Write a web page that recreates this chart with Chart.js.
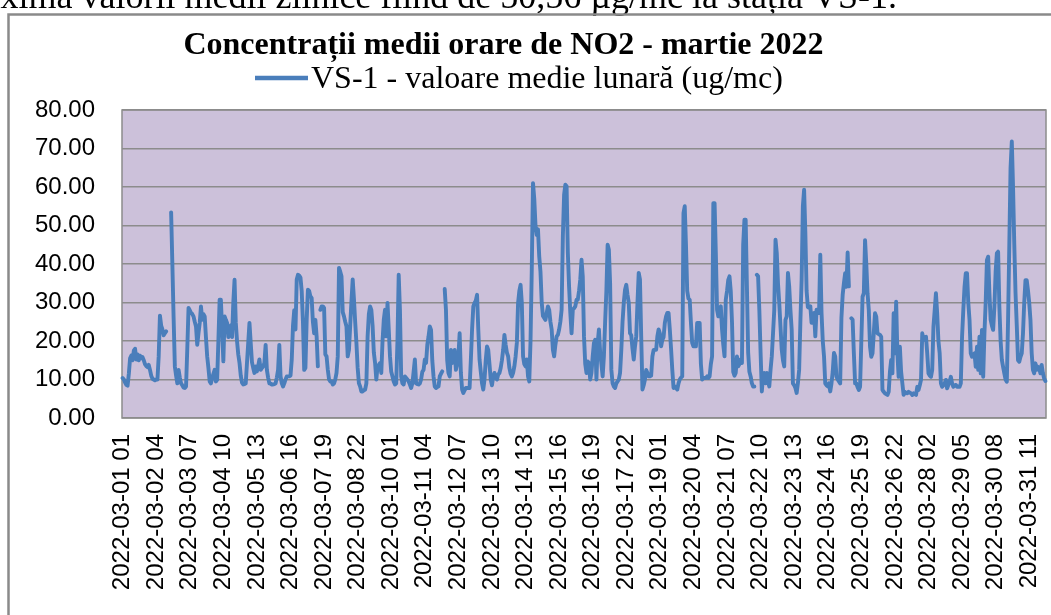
<!DOCTYPE html>
<html>
<head>
<meta charset="utf-8">
<script src="https://cdn.jsdelivr.net/npm/chart.js@4.4.1/dist/chart.umd.min.js"></script>
<style>
html,body{margin:0;padding:0;background:#fff;overflow:hidden;}
#wrap{position:absolute;left:0;top:0;width:1051px;height:615px;}
</style>
</head>
<body>
<div id="wrap"><canvas id="c" width="1051" height="615"></canvas></div>
<script>
// ---------------- texts ----------------
const pageText = 'maxima valorii medii zilnice fiind de 50,56 µg/mc la stația VS-1.';
const chartTitle = 'Concentrații medii orare de NO2 - martie 2022';
const seriesLabel = 'VS-1 - valoare medie lunară (ug/mc)';

// ---------------- tick labels (every 27th hour) ----------------
const tickLabels = [
  '2022-03-01 01','2022-03-02 04','2022-03-03 07','2022-03-04 10','2022-03-05 13',
  '2022-03-06 16','2022-03-07 19','2022-03-08 22','2022-03-10 01','2022-03-11 04',
  '2022-03-12 07','2022-03-13 10','2022-03-14 13','2022-03-15 16','2022-03-16 19',
  '2022-03-17 22','2022-03-19 01','2022-03-20 04','2022-03-21 07','2022-03-22 10',
  '2022-03-23 13','2022-03-24 16','2022-03-25 19','2022-03-26 22','2022-03-28 02',
  '2022-03-29 05','2022-03-30 08','2022-03-31 11'
];
const tickEvery = 27;
const yTickValues = [0, 10, 20, 30, 40, 50, 60, 70, 80];

// ---------------- categories: hourly timestamps (DST hour 27 03 absent) ----------------
const categories = [];
(function () {
  const p = n => String(n).padStart(2, '0');
  for (let d = 1; d <= 31; d++) {
    for (let h = (d === 1 ? 1 : 0); h < 24; h++) {
      if (d === 27 && h === 3) continue;
      categories.push('2022-03-' + p(d) + ' ' + p(h));
    }
  }
  categories.push('2022-04-01 00');
})();

// ---------------- hourly NO2 values (ug/mc) ----------------
const no2Values = [
  10.4,10.0,9.2,8.6,8.4,11.5,15.5,16.2,15.0,17.5,18.0,15.2,16.5,15.0,16.2,15.5,15.8,15.0,14.0,13.5,13.2,13.8,12.5,11.0,
  10.2,10.0,9.8,10.0,10.0,16.0,26.6,24.0,23.0,21.5,22.0,22.5,null,null,null,53.4,40.0,26.0,13.4,11.0,9.0,12.5,10.5,9.0,
  8.5,7.9,7.8,8.2,18.0,28.6,28.0,27.3,27.0,26.4,25.0,23.8,19.0,22.0,24.7,29.0,25.5,27.0,26.4,21.0,16.0,13.0,9.5,9.0,
  10.4,11.5,12.5,9.5,9.9,20.0,30.7,30.7,23.0,14.7,26.4,25.5,24.7,21.0,23.0,24.0,21.0,30.0,35.9,24.7,20.0,16.5,14.3,11.0,
  9.2,8.7,8.8,9.0,14.3,19.5,24.7,19.5,14.5,13.0,11.7,13.4,12.1,13.5,15.2,12.5,13.0,13.4,14.3,19.0,12.5,10.5,9.0,8.9,
  8.7,8.7,8.8,9.0,10.5,12.5,19.0,10.8,9.0,8.2,9.0,10.0,10.8,10.8,10.8,11.0,15.2,24.0,28.0,23.0,36.0,37.2,37.0,36.5,
  33.0,25.0,12.5,13.0,25.5,33.3,33.0,31.6,31.2,25.0,22.0,25.5,21.2,13.4,null,28.1,29.0,29.0,28.6,16.5,16.0,12.5,10.0,9.5,
  9.5,8.7,9.0,10.0,11.7,16.0,39.0,38.0,36.8,27.5,26.4,25.0,23.8,16.0,17.7,24.0,30.3,36.0,31.0,25.0,19.5,13.0,9.0,8.2,
  6.9,6.9,7.2,7.4,9.0,21.2,27.0,29.0,28.1,24.0,17.0,14.3,10.0,13.4,13.8,14.3,11.7,20.0,25.5,28.1,21.2,29.9,23.0,16.0,
  12.0,10.8,9.5,8.7,9.0,20.0,37.2,28.1,10.8,9.0,8.7,10.8,10.4,10.0,9.5,8.7,7.8,9.0,12.0,15.2,9.0,8.8,8.7,9.0,
  10.0,12.0,12.5,15.2,14.3,19.0,21.2,23.8,22.9,15.0,10.8,8.2,7.8,8.0,8.2,10.8,11.5,12.1,null,33.5,28.1,15.0,11.7,10.8,
  17.7,14.3,15.5,17.7,12.5,14.0,16.0,22.0,11.7,7.4,6.5,7.2,7.8,7.8,7.8,7.8,15.0,23.0,29.0,29.9,30.5,32.0,23.0,15.2,
  12.0,9.0,7.4,10.0,15.0,18.6,17.7,14.0,10.0,8.5,10.8,11.7,10.5,10.0,11.3,11.7,13.0,15.0,17.7,21.6,19.0,17.0,16.0,13.0,
  11.5,10.8,11.7,13.4,16.0,19.5,29.9,33.0,34.6,29.9,16.0,14.0,13.4,15.2,10.8,9.5,20.0,38.5,61.0,57.0,50.0,47.5,49.0,42.0,
  38.0,30.0,26.5,26.0,25.5,27.3,29.0,28.1,25.0,23.0,17.7,16.0,19.0,21.2,21.6,23.0,25.0,28.1,47.2,58.0,60.6,60.2,42.9,34.2,
  27.3,22.0,28.1,28.5,29.0,30.7,30.7,33.0,36.0,41.1,36.8,21.2,14.0,11.7,14.7,14.3,10.0,11.7,16.0,19.5,20.3,10.0,19.5,23.0,
  17.0,14.0,10.8,16.0,25.0,33.0,45.0,43.7,35.0,12.5,9.0,8.2,7.8,9.0,9.5,10.0,11.7,17.7,25.0,30.0,33.3,34.6,32.0,29.9,
  22.0,21.5,18.0,15.2,18.6,21.2,30.0,37.7,36.0,21.2,7.4,8.5,10.0,12.5,11.7,10.8,10.8,11.0,16.0,17.7,17.7,17.7,21.2,23.0,
  22.0,18.6,20.3,21.0,24.7,26.4,27.3,27.3,23.0,18.0,12.5,7.8,8.2,7.8,7.4,9.0,10.0,10.5,10.8,53.2,55.0,45.0,33.0,31.0,
  30.7,24.7,19.5,18.6,18.6,18.6,24.7,24.7,24.7,14.0,10.0,10.4,10.4,10.4,10.8,10.4,10.8,14.0,16.0,55.8,55.8,42.9,28.1,26.4,
  27.5,29.0,23.0,19.0,16.0,30.7,33.0,35.9,36.8,33.0,25.0,12.0,11.0,11.7,16.0,13.4,14.0,15.2,14.3,45.0,51.5,51.5,34.2,17.0,
  12.0,10.8,9.0,8.2,8.2,null,37.2,36.8,28.0,16.9,6.9,11.0,11.7,9.0,11.7,9.5,8.2,12.5,16.0,22.0,28.1,46.3,42.9,35.0,
  29.9,23.8,17.7,15.0,13.4,25.5,26.4,37.7,34.2,28.0,23.0,9.0,8.5,7.8,6.5,9.0,12.5,25.0,35.9,55.0,59.3,48.0,33.0,28.8,
  28.6,29.0,24.7,26.0,27.3,21.2,28.1,27.7,27.3,42.4,27.3,20.0,16.0,9.0,8.5,8.2,9.0,6.9,9.0,12.0,16.9,16.0,10.8,10.0,
  9.5,9.0,26.0,32.0,35.0,37.6,34.1,43.0,34.2,null,25.9,25.5,16.8,9.0,9.0,8.0,7.3,8.1,20.0,31.5,32.4,46.2,40.0,32.4,
  28.1,18.5,15.9,16.8,22.0,27.2,26.3,22.0,21.8,21.6,21.1,7.3,6.8,6.4,6.2,6.0,6.8,12.0,15.1,11.6,27.2,16.8,30.2,16.8,
  10.7,18.5,12.0,9.0,6.0,6.8,6.5,6.4,6.8,6.6,6.4,6.0,6.4,6.2,6.0,8.1,7.3,8.5,9.9,22.0,20.3,21.0,21.1,16.8,
  11.6,11.0,10.7,12.5,23.7,28.0,32.4,27.2,20.0,16.8,9.0,8.1,8.5,9.0,9.9,7.7,8.6,9.5,10.7,9.0,8.1,8.5,8.6,8.1,
  8.1,8.1,9.0,21.1,28.0,34.1,37.6,37.6,30.0,25.5,16.8,15.9,16.5,16.8,13.3,18.5,12.5,21.1,11.6,22.9,10.7,22.0,30.0,41.0,
  41.9,32.4,25.5,24.0,22.9,28.9,38.0,42.8,43.2,28.9,20.0,15.1,13.3,11.6,10.0,9.4,25.5,45.0,65.0,71.8,60.0,45.0,32.4,24.0,
  15.0,14.6,15.9,16.8,22.0,30.0,35.8,35.8,33.2,30.0,25.5,16.8,12.5,11.6,14.2,12.5,13.3,13.0,11.6,13.8,11.6,10.3,9.6
];

// ---------------- styling ----------------
const lineColor = '#4A7EBB';
const plotBg = '#CCC1DA';
const gridColor = '#8C8C8C';

const decorPlugin = {
  id: 'decor',
  beforeDraw(chart) {
    const ctx = chart.ctx;
    const a = chart.chartArea;
    ctx.save();
    ctx.fillStyle = '#ffffff';
    ctx.fillRect(0, 0, chart.width, chart.height);
    // document text above the chart (cut by the page edge)
    ctx.fillStyle = '#000';
    ctx.font = '36px "Liberation Serif", "Times New Roman", serif';
    ctx.textAlign = 'right';
    ctx.textBaseline = 'alphabetic';
    ctx.fillText(pageText, 897, 8);
    // outer chart frame
    ctx.strokeStyle = '#8A8A8A';
    ctx.lineWidth = 2.5;
    ctx.strokeRect(8.5, 14.5, 1200, 800);
    // plot background
    ctx.fillStyle = plotBg;
    ctx.fillRect(a.left, a.top, a.right - a.left, a.bottom - a.top);
    ctx.restore();
  },
  beforeDatasetsDraw(chart) {
    const ctx = chart.ctx;
    const a = chart.chartArea;
    ctx.save();
    ctx.strokeStyle = gridColor;
    ctx.lineWidth = 1.5;
    ctx.strokeRect(a.left, a.top, a.right - a.left, a.bottom - a.top);
    ctx.restore();
  },
  afterDraw(chart) {
    const ctx = chart.ctx;
    ctx.save();
    ctx.fillStyle = '#000';
    ctx.textBaseline = 'alphabetic';
    ctx.textAlign = 'center';
    ctx.font = 'bold 32px "Liberation Serif", "Times New Roman", serif';
    ctx.fillText(chartTitle, 503.5, 54);
    // legend
    const ds = chart.data.datasets[0];
    ctx.strokeStyle = ds.borderColor;
    ctx.lineWidth = 4.5;
    ctx.beginPath();
    ctx.moveTo(255, 78);
    ctx.lineTo(308, 78);
    ctx.stroke();
    ctx.textAlign = 'left';
    ctx.font = '32px "Liberation Serif", "Times New Roman", serif';
    ctx.fillText(ds.label, 311, 88);
    ctx.restore();
  }
};

new Chart(document.getElementById('c'), {
  type: 'line',
  data: {
    labels: categories,
    datasets: [{
      label: seriesLabel,
      data: no2Values,
      borderColor: lineColor,
      backgroundColor: lineColor,
      borderWidth: 3.9,
      pointRadius: 0,
      pointHoverRadius: 0,
      tension: 0,
      spanGaps: false,
      borderJoinStyle: 'round',
      borderCapStyle: 'round',
      fill: false
    }]
  },
  options: {
    responsive: false,
    animation: false,
    devicePixelRatio: 1,
    events: [],
    layout: { padding: { left: 0, right: 5, top: 110, bottom: 0 } },
    plugins: {
      legend: { display: false },
      title: { display: false },
      tooltip: { enabled: false }
    },
    scales: {
      x: {
        type: 'category',
        offset: true,
        grid: { display: false, drawTicks: false },
        border: { display: false },
        afterBuildTicks: s => { s.ticks = s.ticks.filter(t => t.value % tickEvery === 0); },
        afterFit: s => { s.height = 197; s.paddingLeft = 0; s.paddingRight = 0; },
        ticks: {
          autoSkip: false,
          minRotation: 90,
          maxRotation: 90,
          padding: 16,
          color: '#000',
          font: { family: '"Liberation Sans", Arial, sans-serif', size: 24 },
          callback: (v, i) => tickLabels[i]
        }
      },
      y: {
        min: 0,
        max: 80,
        afterBuildTicks: s => { s.ticks = yTickValues.map(v => ({ value: v })); },
        afterFit: s => { s.width = 122; s.paddingTop = 0; s.paddingBottom = 0; },
        grid: { color: gridColor, lineWidth: 1.5, drawTicks: false },
        border: { display: false },
        ticks: {
          padding: 27,
          color: '#000',
          font: { family: '"Liberation Sans", Arial, sans-serif', size: 24 },
          callback: v => Number(v).toFixed(2)
        }
      }
    }
  },
  plugins: [decorPlugin]
});
</script>
</body>
</html>
